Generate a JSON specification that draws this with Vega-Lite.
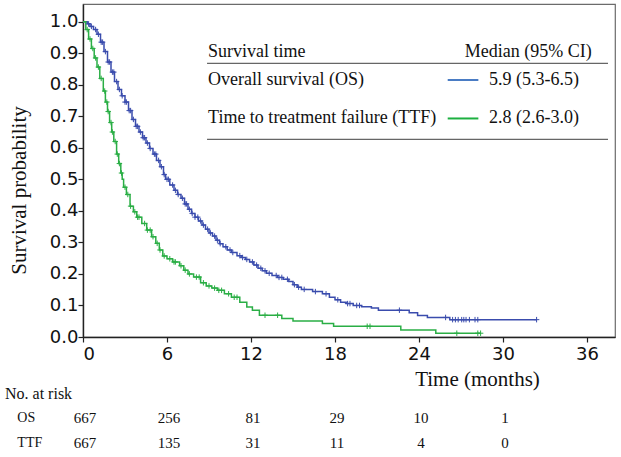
{
  "$schema": "https://vega.github.io/schema/vega-lite/v6.json",
  "width": 532,
  "height": 333,
  "autosize": {"type": "none"},
  "padding": {"left": 83, "top": 4, "right": 6, "bottom": 120},
  "background": "white",
  "data": {"values": [{}]},
  "config": {
    "view": {"stroke": "#6b6b6b", "strokeWidth": 1.2},
    "axis": {"grid": false, "domainColor": "#222", "domainWidth": 1.4, "tickColor": "#222", "tickWidth": 1.2, "labelColor": "#111", "titleColor": "#111", "titleFontWeight": "normal", "labelOverlap": false}
  },
  "datasets": {
    "km": [
      {"group": "OS", "t": 0, "S": 1.0}, {"group": "OS", "t": 0.3, "S": 0.993}, {"group": "OS", "t": 0.5, "S": 0.985}, {"group": "OS", "t": 0.75, "S": 0.975},
      {"group": "OS", "t": 1.0, "S": 0.96}, {"group": "OS", "t": 1.25, "S": 0.935}, {"group": "OS", "t": 1.5, "S": 0.905}, {"group": "OS", "t": 1.75, "S": 0.872},
      {"group": "OS", "t": 2.0, "S": 0.84}, {"group": "OS", "t": 2.25, "S": 0.81}, {"group": "OS", "t": 2.5, "S": 0.785}, {"group": "OS", "t": 2.75, "S": 0.765},
      {"group": "OS", "t": 3.0, "S": 0.745}, {"group": "OS", "t": 3.25, "S": 0.718}, {"group": "OS", "t": 3.5, "S": 0.69}, {"group": "OS", "t": 3.75, "S": 0.668},
      {"group": "OS", "t": 4.0, "S": 0.65}, {"group": "OS", "t": 4.25, "S": 0.632}, {"group": "OS", "t": 4.5, "S": 0.615}, {"group": "OS", "t": 4.75, "S": 0.598},
      {"group": "OS", "t": 5.0, "S": 0.58}, {"group": "OS", "t": 5.25, "S": 0.56}, {"group": "OS", "t": 5.5, "S": 0.54}, {"group": "OS", "t": 5.75, "S": 0.515},
      {"group": "OS", "t": 5.9, "S": 0.5}, {"group": "OS", "t": 6.2, "S": 0.482}, {"group": "OS", "t": 6.5, "S": 0.465}, {"group": "OS", "t": 6.75, "S": 0.452},
      {"group": "OS", "t": 7.0, "S": 0.44}, {"group": "OS", "t": 7.25, "S": 0.422}, {"group": "OS", "t": 7.5, "S": 0.405}, {"group": "OS", "t": 7.75, "S": 0.392},
      {"group": "OS", "t": 8.0, "S": 0.38}, {"group": "OS", "t": 8.25, "S": 0.368}, {"group": "OS", "t": 8.5, "S": 0.355}, {"group": "OS", "t": 8.75, "S": 0.342},
      {"group": "OS", "t": 9.0, "S": 0.33}, {"group": "OS", "t": 9.25, "S": 0.32}, {"group": "OS", "t": 9.5, "S": 0.307}, {"group": "OS", "t": 9.75, "S": 0.296},
      {"group": "OS", "t": 10.0, "S": 0.286}, {"group": "OS", "t": 10.3, "S": 0.276}, {"group": "OS", "t": 10.6, "S": 0.268}, {"group": "OS", "t": 11.0, "S": 0.258},
      {"group": "OS", "t": 11.3, "S": 0.252}, {"group": "OS", "t": 11.6, "S": 0.246}, {"group": "OS", "t": 11.9, "S": 0.238}, {"group": "OS", "t": 12.2, "S": 0.228},
      {"group": "OS", "t": 12.5, "S": 0.218}, {"group": "OS", "t": 12.8, "S": 0.21}, {"group": "OS", "t": 13.1, "S": 0.202}, {"group": "OS", "t": 13.5, "S": 0.195},
      {"group": "OS", "t": 13.9, "S": 0.189}, {"group": "OS", "t": 14.3, "S": 0.183}, {"group": "OS", "t": 14.7, "S": 0.176}, {"group": "OS", "t": 15.0, "S": 0.166},
      {"group": "OS", "t": 15.3, "S": 0.158}, {"group": "OS", "t": 15.6, "S": 0.151}, {"group": "OS", "t": 16.4, "S": 0.144}, {"group": "OS", "t": 17.1, "S": 0.137},
      {"group": "OS", "t": 17.6, "S": 0.126}, {"group": "OS", "t": 18.0, "S": 0.118}, {"group": "OS", "t": 18.4, "S": 0.11}, {"group": "OS", "t": 18.8, "S": 0.106},
      {"group": "OS", "t": 19.3, "S": 0.1}, {"group": "OS", "t": 19.9, "S": 0.096}, {"group": "OS", "t": 20.6, "S": 0.092}, {"group": "OS", "t": 21.1, "S": 0.085},
      {"group": "OS", "t": 23.3, "S": 0.077}, {"group": "OS", "t": 23.9, "S": 0.068}, {"group": "OS", "t": 24.6, "S": 0.062}, {"group": "OS", "t": 26.2, "S": 0.055},
      {"group": "OS", "t": 32.4, "S": 0.055},
      {"group": "TTF", "t": 0, "S": 1.0}, {"group": "TTF", "t": 0.2, "S": 0.975}, {"group": "TTF", "t": 0.4, "S": 0.945}, {"group": "TTF", "t": 0.6, "S": 0.915},
      {"group": "TTF", "t": 0.8, "S": 0.885}, {"group": "TTF", "t": 1.0, "S": 0.856}, {"group": "TTF", "t": 1.2, "S": 0.82}, {"group": "TTF", "t": 1.45, "S": 0.78},
      {"group": "TTF", "t": 1.6, "S": 0.745}, {"group": "TTF", "t": 1.75, "S": 0.715}, {"group": "TTF", "t": 1.9, "S": 0.68}, {"group": "TTF", "t": 2.05, "S": 0.65},
      {"group": "TTF", "t": 2.2, "S": 0.62}, {"group": "TTF", "t": 2.4, "S": 0.58}, {"group": "TTF", "t": 2.55, "S": 0.55}, {"group": "TTF", "t": 2.7, "S": 0.52},
      {"group": "TTF", "t": 2.8, "S": 0.5}, {"group": "TTF", "t": 2.9, "S": 0.475}, {"group": "TTF", "t": 3.1, "S": 0.452}, {"group": "TTF", "t": 3.36, "S": 0.415},
      {"group": "TTF", "t": 3.6, "S": 0.397}, {"group": "TTF", "t": 3.84, "S": 0.38}, {"group": "TTF", "t": 4.2, "S": 0.36}, {"group": "TTF", "t": 4.55, "S": 0.339},
      {"group": "TTF", "t": 4.9, "S": 0.318}, {"group": "TTF", "t": 5.2, "S": 0.297}, {"group": "TTF", "t": 5.45, "S": 0.276}, {"group": "TTF", "t": 5.7, "S": 0.257},
      {"group": "TTF", "t": 6.0, "S": 0.248}, {"group": "TTF", "t": 6.4, "S": 0.238}, {"group": "TTF", "t": 6.9, "S": 0.226}, {"group": "TTF", "t": 7.2, "S": 0.212},
      {"group": "TTF", "t": 7.5, "S": 0.2}, {"group": "TTF", "t": 7.9, "S": 0.19}, {"group": "TTF", "t": 8.4, "S": 0.172}, {"group": "TTF", "t": 8.8, "S": 0.162},
      {"group": "TTF", "t": 9.2, "S": 0.155}, {"group": "TTF", "t": 9.6, "S": 0.148}, {"group": "TTF", "t": 10.1, "S": 0.137}, {"group": "TTF", "t": 10.6, "S": 0.126},
      {"group": "TTF", "t": 11.2, "S": 0.11}, {"group": "TTF", "t": 11.7, "S": 0.095}, {"group": "TTF", "t": 12.1, "S": 0.085}, {"group": "TTF", "t": 12.6, "S": 0.069},
      {"group": "TTF", "t": 14.2, "S": 0.059}, {"group": "TTF", "t": 15.0, "S": 0.051}, {"group": "TTF", "t": 17.1, "S": 0.043}, {"group": "TTF", "t": 17.9, "S": 0.034},
      {"group": "TTF", "t": 22.7, "S": 0.022}, {"group": "TTF", "t": 25.2, "S": 0.012}, {"group": "TTF", "t": 28.4, "S": 0.012}
    ],
    "censor": [
      {"group": "OS", "t": 0.4, "S": 0.993}, {"group": "OS", "t": 0.6, "S": 0.985}, {"group": "OS", "t": 0.9, "S": 0.975}, {"group": "OS", "t": 1.1, "S": 0.96},
      {"group": "OS", "t": 1.3, "S": 0.935}, {"group": "OS", "t": 1.4, "S": 0.935}, {"group": "OS", "t": 1.6, "S": 0.905}, {"group": "OS", "t": 1.8, "S": 0.872},
      {"group": "OS", "t": 1.9, "S": 0.872}, {"group": "OS", "t": 2.1, "S": 0.84}, {"group": "OS", "t": 2.2, "S": 0.84}, {"group": "OS", "t": 2.4, "S": 0.81},
      {"group": "OS", "t": 2.6, "S": 0.785}, {"group": "OS", "t": 2.8, "S": 0.765}, {"group": "OS", "t": 3.0, "S": 0.745}, {"group": "OS", "t": 3.1, "S": 0.745},
      {"group": "OS", "t": 3.3, "S": 0.718}, {"group": "OS", "t": 3.4, "S": 0.718}, {"group": "OS", "t": 3.6, "S": 0.69}, {"group": "OS", "t": 3.8, "S": 0.668},
      {"group": "OS", "t": 3.9, "S": 0.668}, {"group": "OS", "t": 4.1, "S": 0.65}, {"group": "OS", "t": 4.3, "S": 0.632}, {"group": "OS", "t": 4.4, "S": 0.632},
      {"group": "OS", "t": 4.6, "S": 0.615}, {"group": "OS", "t": 4.8, "S": 0.598}, {"group": "OS", "t": 5.1, "S": 0.58}, {"group": "OS", "t": 5.2, "S": 0.58},
      {"group": "OS", "t": 5.4, "S": 0.56}, {"group": "OS", "t": 5.6, "S": 0.54}, {"group": "OS", "t": 5.8, "S": 0.515}, {"group": "OS", "t": 6.0, "S": 0.5},
      {"group": "OS", "t": 6.1, "S": 0.5}, {"group": "OS", "t": 6.4, "S": 0.482}, {"group": "OS", "t": 6.6, "S": 0.465}, {"group": "OS", "t": 6.8, "S": 0.452},
      {"group": "OS", "t": 7.1, "S": 0.44}, {"group": "OS", "t": 7.3, "S": 0.422}, {"group": "OS", "t": 7.4, "S": 0.422}, {"group": "OS", "t": 7.6, "S": 0.405},
      {"group": "OS", "t": 7.8, "S": 0.392}, {"group": "OS", "t": 8.0, "S": 0.38}, {"group": "OS", "t": 8.2, "S": 0.38}, {"group": "OS", "t": 8.4, "S": 0.368},
      {"group": "OS", "t": 8.6, "S": 0.355}, {"group": "OS", "t": 8.9, "S": 0.342}, {"group": "OS", "t": 9.1, "S": 0.33}, {"group": "OS", "t": 9.4, "S": 0.32},
      {"group": "OS", "t": 9.6, "S": 0.307}, {"group": "OS", "t": 9.8, "S": 0.296}, {"group": "OS", "t": 10.2, "S": 0.286}, {"group": "OS", "t": 10.5, "S": 0.276},
      {"group": "OS", "t": 10.7, "S": 0.268}, {"group": "OS", "t": 11.2, "S": 0.258}, {"group": "OS", "t": 11.4, "S": 0.252}, {"group": "OS", "t": 11.7, "S": 0.246},
      {"group": "OS", "t": 12.1, "S": 0.238}, {"group": "OS", "t": 12.4, "S": 0.228}, {"group": "OS", "t": 12.7, "S": 0.218}, {"group": "OS", "t": 13.0, "S": 0.21},
      {"group": "OS", "t": 13.3, "S": 0.202}, {"group": "OS", "t": 13.8, "S": 0.195}, {"group": "OS", "t": 14.0, "S": 0.189}, {"group": "OS", "t": 14.2, "S": 0.189},
      {"group": "OS", "t": 14.6, "S": 0.183}, {"group": "OS", "t": 15.1, "S": 0.166}, {"group": "OS", "t": 15.4, "S": 0.158}, {"group": "OS", "t": 15.8, "S": 0.151},
      {"group": "OS", "t": 16.6, "S": 0.144}, {"group": "OS", "t": 17.36, "S": 0.137}, {"group": "OS", "t": 18.2, "S": 0.118}, {"group": "OS", "t": 18.9, "S": 0.106},
      {"group": "OS", "t": 19.07, "S": 0.106}, {"group": "OS", "t": 19.55, "S": 0.1}, {"group": "OS", "t": 19.75, "S": 0.1}, {"group": "OS", "t": 22.6, "S": 0.085},
      {"group": "OS", "t": 25.9, "S": 0.062}, {"group": "OS", "t": 26.4, "S": 0.055}, {"group": "OS", "t": 26.6, "S": 0.055}, {"group": "OS", "t": 26.8, "S": 0.055},
      {"group": "OS", "t": 27.05, "S": 0.055}, {"group": "OS", "t": 27.2, "S": 0.055}, {"group": "OS", "t": 27.36, "S": 0.055}, {"group": "OS", "t": 27.6, "S": 0.055},
      {"group": "OS", "t": 28.0, "S": 0.055}, {"group": "OS", "t": 28.2, "S": 0.055}, {"group": "OS", "t": 32.4, "S": 0.055},
      {"group": "TTF", "t": 0.3, "S": 0.975}, {"group": "TTF", "t": 0.5, "S": 0.945}, {"group": "TTF", "t": 0.7, "S": 0.915}, {"group": "TTF", "t": 0.9, "S": 0.885},
      {"group": "TTF", "t": 1.1, "S": 0.856}, {"group": "TTF", "t": 1.3, "S": 0.82}, {"group": "TTF", "t": 1.55, "S": 0.78}, {"group": "TTF", "t": 1.7, "S": 0.745},
      {"group": "TTF", "t": 1.8, "S": 0.715}, {"group": "TTF", "t": 2.0, "S": 0.68}, {"group": "TTF", "t": 2.1, "S": 0.65}, {"group": "TTF", "t": 2.3, "S": 0.62},
      {"group": "TTF", "t": 2.45, "S": 0.58}, {"group": "TTF", "t": 2.6, "S": 0.55}, {"group": "TTF", "t": 2.75, "S": 0.52}, {"group": "TTF", "t": 3.0, "S": 0.475},
      {"group": "TTF", "t": 3.2, "S": 0.452}, {"group": "TTF", "t": 3.4, "S": 0.415}, {"group": "TTF", "t": 3.7, "S": 0.397}, {"group": "TTF", "t": 3.9, "S": 0.38},
      {"group": "TTF", "t": 4.0, "S": 0.38}, {"group": "TTF", "t": 4.4, "S": 0.36}, {"group": "TTF", "t": 4.6, "S": 0.339}, {"group": "TTF", "t": 4.8, "S": 0.339},
      {"group": "TTF", "t": 5.0, "S": 0.318}, {"group": "TTF", "t": 5.3, "S": 0.297}, {"group": "TTF", "t": 5.5, "S": 0.276}, {"group": "TTF", "t": 5.8, "S": 0.257},
      {"group": "TTF", "t": 6.2, "S": 0.248}, {"group": "TTF", "t": 6.5, "S": 0.238}, {"group": "TTF", "t": 6.6, "S": 0.238}, {"group": "TTF", "t": 7.0, "S": 0.226},
      {"group": "TTF", "t": 7.3, "S": 0.212}, {"group": "TTF", "t": 7.6, "S": 0.2}, {"group": "TTF", "t": 8.1, "S": 0.19}, {"group": "TTF", "t": 8.3, "S": 0.19},
      {"group": "TTF", "t": 8.6, "S": 0.172}, {"group": "TTF", "t": 9.0, "S": 0.162}, {"group": "TTF", "t": 9.4, "S": 0.155}, {"group": "TTF", "t": 9.7, "S": 0.148},
      {"group": "TTF", "t": 9.9, "S": 0.148}, {"group": "TTF", "t": 10.4, "S": 0.137}, {"group": "TTF", "t": 10.8, "S": 0.126}, {"group": "TTF", "t": 11.0, "S": 0.126},
      {"group": "TTF", "t": 13.0, "S": 0.069}, {"group": "TTF", "t": 13.9, "S": 0.069}, {"group": "TTF", "t": 20.3, "S": 0.034}, {"group": "TTF", "t": 20.5, "S": 0.034},
      {"group": "TTF", "t": 26.7, "S": 0.012}, {"group": "TTF", "t": 28.2, "S": 0.012}, {"group": "TTF", "t": 28.4, "S": 0.012}
    ],
    "risk": [
      {"group": "OS", "t": 0, "n": "667"}, {"group": "OS", "t": 6, "n": "256"}, {"group": "OS", "t": 12, "n": "81"},
      {"group": "OS", "t": 18, "n": "29"}, {"group": "OS", "t": 24, "n": "10"}, {"group": "OS", "t": 30, "n": "1"},
      {"group": "TTF", "t": 0, "n": "667"}, {"group": "TTF", "t": 6, "n": "135"}, {"group": "TTF", "t": 12, "n": "31"},
      {"group": "TTF", "t": 18, "n": "11"}, {"group": "TTF", "t": 24, "n": "4"}, {"group": "TTF", "t": 30, "n": "0"}
    ]
  },
  "layer": [
    {
      "data": {"name": "km"},
      "mark": {"type": "line", "interpolate": "step-after", "strokeWidth": 1.5, "clip": false},
      "encoding": {
        "x": {"field": "t", "type": "quantitative", "scale": {"domain": [0, 38], "nice": false, "zero": false},
          "axis": {"values": [0, 6, 12, 18, 24, 30, 36], "tickSize": 5, "labelFont": "DejaVu Sans", "labelFontSize": 18, "labelPadding": 3, "labelOverlap": false,
            "title": "Time (months)", "titleFont": "Liberation Serif", "titleFontSize": 21, "titleX": 394, "titleY": 42, "titleBaseline": "middle", "titleAlign": "center"}},
        "y": {"field": "S", "type": "quantitative", "scale": {"domain": [0, 1.056], "nice": false, "zero": false},
          "axis": {"tickCount": 11, "tickMinStep": 0.1, "format": ".1f", "tickSize": 5, "labelFont": "DejaVu Sans", "labelFontSize": 18, "labelPadding": 0, "labelOverlap": false,
            "title": "Survival probability", "titleFont": "Liberation Serif", "titleFontSize": 21, "titleX": -64, "titleY": 186, "titleBaseline": "middle", "titleAlign": "center"}},
        "color": {"field": "group", "type": "nominal", "scale": {"domain": ["OS", "TTF"], "range": ["#3a4cad", "#2aae45"]}, "legend": null}
      }
    },
    {
      "data": {"name": "censor"},
      "mark": {"type": "point", "shape": "M-1,0L1,0M0,-1L0,1", "filled": false, "size": 30, "strokeWidth": 1, "opacity": 1},
      "encoding": {
        "x": {"field": "t", "type": "quantitative"},
        "y": {"field": "S", "type": "quantitative"},
        "color": {"field": "group", "type": "nominal", "scale": {"domain": ["OS", "TTF"], "range": ["#3a4cad", "#2aae45"]}, "legend": null}
      }
    },
    {"mark": {"type": "text", "align": "left", "baseline": "middle", "font": "Liberation Serif", "fontSize": 18, "color": "#111"},
      "encoding": {"x": {"datum": 8.93}, "y": {"datum": 0.905}, "text": {"value": "Survival time"}}},
    {"mark": {"type": "text", "align": "right", "baseline": "middle", "font": "Liberation Serif", "fontSize": 18, "color": "#111"},
      "encoding": {"x": {"datum": 36.34}, "y": {"datum": 0.905}, "text": {"value": "Median (95% CI)"}}},
    {"mark": {"type": "rule", "color": "#666", "strokeWidth": 1.2},
      "encoding": {"x": {"datum": 8.86}, "x2": {"datum": 37.5}, "y": {"datum": 0.868}}},
    {"mark": {"type": "text", "align": "left", "baseline": "middle", "font": "Liberation Serif", "fontSize": 18, "color": "#111"},
      "encoding": {"x": {"datum": 8.93}, "y": {"datum": 0.815}, "text": {"value": "Overall survival (OS)"}}},
    {"mark": {"type": "rule", "color": "#4a7cc4", "strokeWidth": 2},
      "encoding": {"x": {"datum": 26.05}, "x2": {"datum": 28.24}, "y": {"datum": 0.815}}},
    {"mark": {"type": "text", "align": "left", "baseline": "middle", "font": "Liberation Serif", "fontSize": 18, "color": "#111"},
      "encoding": {"x": {"datum": 29.0}, "y": {"datum": 0.815}, "text": {"value": "5.9 (5.3-6.5)"}}},
    {"mark": {"type": "text", "align": "left", "baseline": "middle", "font": "Liberation Serif", "fontSize": 18, "color": "#111"},
      "encoding": {"x": {"datum": 8.93}, "y": {"datum": 0.693}, "text": {"value": "Time to treatment failure (TTF)"}}},
    {"mark": {"type": "rule", "color": "#1db040", "strokeWidth": 2},
      "encoding": {"x": {"datum": 26.05}, "x2": {"datum": 28.24}, "y": {"datum": 0.693}}},
    {"mark": {"type": "text", "align": "left", "baseline": "middle", "font": "Liberation Serif", "fontSize": 18, "color": "#111"},
      "encoding": {"x": {"datum": 29.0}, "y": {"datum": 0.693}, "text": {"value": "2.8 (2.6-3.0)"}}},
    {"mark": {"type": "rule", "color": "#666", "strokeWidth": 1.2},
      "encoding": {"x": {"datum": 8.86}, "x2": {"datum": 37.5}, "y": {"datum": 0.627}}},
    {"mark": {"type": "text", "align": "left", "baseline": "middle", "font": "Liberation Serif", "fontSize": 16, "color": "#111"},
      "encoding": {"x": {"datum": -5.57}, "y": {"datum": -0.182}, "text": {"value": "No. at risk"}}},
    {"mark": {"type": "text", "align": "left", "baseline": "middle", "font": "Liberation Serif", "fontSize": 14, "color": "#111"},
      "encoding": {"x": {"datum": -4.69}, "y": {"datum": -0.258}, "text": {"value": "OS"}}},
    {"mark": {"type": "text", "align": "left", "baseline": "middle", "font": "Liberation Serif", "fontSize": 14, "color": "#111"},
      "encoding": {"x": {"datum": -4.69}, "y": {"datum": -0.335}, "text": {"value": "TTF"}}},
    {
      "data": {"name": "risk"},
      "transform": [{"filter": "datum.group === 'OS'"}],
      "mark": {"type": "text", "align": "center", "baseline": "middle", "font": "Liberation Serif", "fontSize": 15, "color": "#111", "dx": 2},
      "encoding": {"x": {"field": "t", "type": "quantitative"}, "y": {"datum": -0.258}, "text": {"field": "n"}}
    },
    {
      "data": {"name": "risk"},
      "transform": [{"filter": "datum.group === 'TTF'"}],
      "mark": {"type": "text", "align": "center", "baseline": "middle", "font": "Liberation Serif", "fontSize": 15, "color": "#111", "dx": 2},
      "encoding": {"x": {"field": "t", "type": "quantitative"}, "y": {"datum": -0.335}, "text": {"field": "n"}}
    }
  ]
}
